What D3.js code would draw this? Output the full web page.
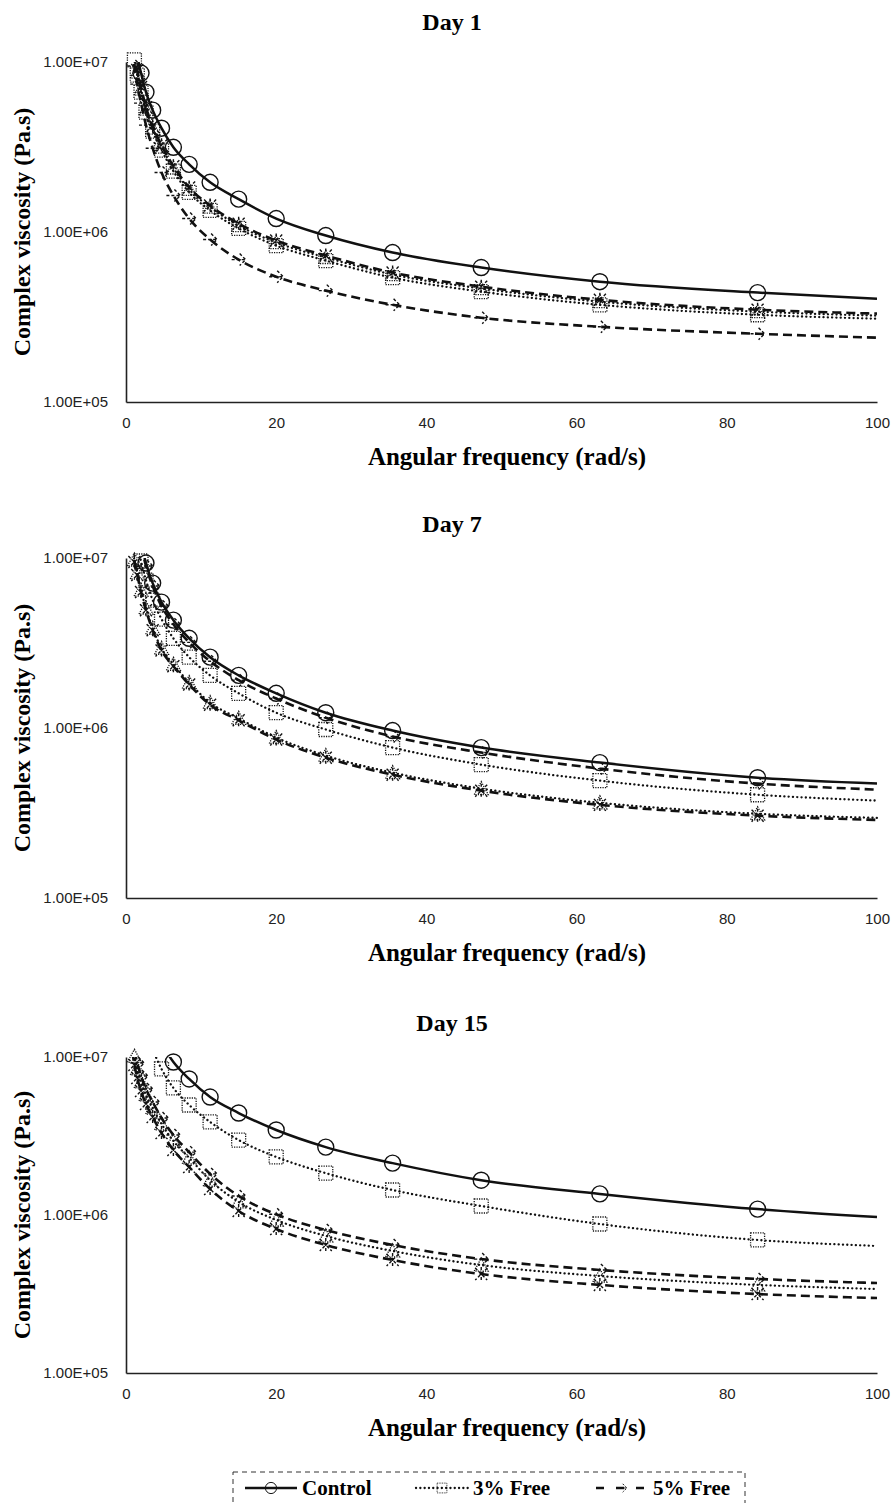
<!DOCTYPE html>
<html>
<head>
<meta charset="utf-8">
<script src="https://cdn.jsdelivr.net/npm/d3@7"></script>
<style>
  body { margin: 0; background: #fff; }
  svg { display: block; }
</style>
</head>
<body>
<script>
const width = 893;
const height = 1503;

// angular frequency (rad/s); the last entry is where the curves stop
const freq = [0.841, 1.12, 1.5, 2.0, 2.66, 3.55, 4.73, 6.31, 8.41, 11.2, 15.0, 20.0, 26.6, 35.5, 47.3, 63.1, 84.1, 100];

// complex viscosity (Pa.s), null = off the chart
const day1Control = [null, null, 1.08e7, 8.61e6, 6.65e6, 5.21e6, 4.08e6, 3.15e6, 2.50e6, 1.96e6, 1.56e6, 1.20e6, 9.53e5, 7.57e5, 6.18e5, 5.10e5, 4.40e5, 4.05e5];
const day1Free3 = [1.26e7, 1.03e7, 8.38e6, 6.65e6, 5.07e6, 3.92e6, 3.03e6, 2.28e6, 1.71e6, 1.34e6, 1.05e6, 8.32e5, 6.79e5, 5.39e5, 4.46e5, 3.73e5, 3.26e5, 3.09e5];
const day1Free5 = [1.18e7, 9.47e6, 7.41e6, 5.73e6, 4.25e6, 3.11e6, 2.24e6, 1.64e6, 1.20e6, 9.03e5, 6.88e5, 5.46e5, 4.52e5, 3.73e5, 3.13e5, 2.77e5, 2.52e5, 2.39e5];
const day1Enc3 = [1.31e7, 1.07e7, 8.73e6, 6.93e6, 5.28e6, 4.08e6, 3.16e6, 2.38e6, 1.78e6, 1.40e6, 1.09e6, 8.67e5, 7.08e5, 5.62e5, 4.65e5, 3.89e5, 3.40e5, 3.22e5];
const day1Enc5 = [1.35e7, 1.10e7, 8.97e6, 7.12e6, 5.42e6, 4.19e6, 3.24e6, 2.44e6, 1.83e6, 1.43e6, 1.12e6, 8.90e5, 7.27e5, 5.77e5, 4.77e5, 3.99e5, 3.49e5, 3.31e5];

const day7Control = [null, null, null, 1.23e7, 9.34e6, 7.12e6, 5.50e6, 4.31e6, 3.37e6, 2.61e6, 2.04e6, 1.60e6, 1.23e6, 9.66e5, 7.67e5, 6.26e5, 5.10e5, 4.71e5];
const day7Free3 = [null, null, 1.23e7, 9.60e6, 7.41e6, 5.65e6, 4.37e6, 3.37e6, 2.61e6, 2.04e6, 1.60e6, 1.23e6, 9.80e5, 7.67e5, 6.09e5, 4.90e5, 4.05e5, 3.74e5];
const day7Free5 = [null, null, null, 1.18e7, 8.97e6, 6.84e6, 5.21e6, 4.08e6, 3.19e6, 2.47e6, 1.91e6, 1.49e6, 1.15e6, 8.91e5, 7.17e5, 5.77e5, 4.71e5, 4.34e5];
const day7Enc3 = [1.19e7, 9.73e6, 8.16e6, 6.47e6, 5.07e6, 3.86e6, 2.94e6, 2.37e6, 1.85e6, 1.41e6, 1.14e6, 8.79e5, 6.88e5, 5.46e5, 4.40e5, 3.63e5, 3.13e5, 2.96e5];
const day7Enc5 = [1.16e7, 9.47e6, 7.94e6, 6.30e6, 4.93e6, 3.76e6, 2.86e6, 2.31e6, 1.80e6, 1.37e6, 1.11e6, 8.55e5, 6.69e5, 5.31e5, 4.28e5, 3.53e5, 3.05e5, 2.88e5];

const day15Control = [null, null, null, null, null, null, 1.21e7, 9.30e6, 7.26e6, 5.58e6, 4.42e6, 3.45e6, 2.69e6, 2.13e6, 1.66e6, 1.36e6, 1.09e6, 9.71e5];
const day15Free3 = [null, null, null, null, null, 1.11e7, 8.40e6, 6.37e6, 4.97e6, 3.88e6, 2.98e6, 2.33e6, 1.84e6, 1.44e6, 1.14e6, 8.77e5, 6.95e5, 6.37e5];
const day15Free5 = [1.34e7, 1.11e7, 9.16e6, 7.58e6, 6.27e6, 5.19e6, 4.11e6, 3.21e6, 2.50e6, 1.82e6, 1.32e6, 1.01e6, 8.04e5, 6.46e5, 5.26e5, 4.49e5, 3.94e5, 3.71e5];
const day15Enc3 = [1.23e7, 1.01e7, 8.40e6, 6.95e6, 5.75e6, 4.75e6, 3.77e6, 2.94e6, 2.30e6, 1.66e6, 1.21e6, 9.30e5, 7.37e5, 5.92e5, 4.82e5, 4.11e5, 3.61e5, 3.40e5];
const day15Enc5 = [1.08e7, 8.90e6, 7.36e6, 6.09e6, 5.04e6, 4.17e6, 3.30e6, 2.58e6, 2.01e6, 1.46e6, 1.06e6, 8.15e5, 6.46e5, 5.19e5, 4.23e5, 3.61e5, 3.16e5, 2.98e5];

const dayTitles = ["Day 1", "Day 7", "Day 15"];
const seriesNames = ["Control", "3% Free", "5% Free", "3% Encapsulated", "5% Encapsulated"];
const legendNames = ["Control", "3% Free", "5% Free"];
const xTicks = [0, 20, 40, 60, 80, 100];
const yTicks = [1e5, 1e6, 1e7];
const yTickLabels = ["1.00E+05", "1.00E+06", "1.00E+07"];

const days = [
  [day1Control, day1Free3, day1Free5, day1Enc3, day1Enc5],
  [day7Control, day7Free3, day7Free5, day7Enc3, day7Enc5],
  [day15Control, day15Free3, day15Free5, day15Enc3, day15Enc5]
];

// layout: the three charts are stacked, the last one is a bit shorter
const plotLeft = 126, plotRight = 877;
const panelTops = [62, 558, 1057];
const panelHeights = [340, 340, 316];
const titleBase = [30, 532, 1031];
const serif = "'Liberation Serif', 'Times New Roman', serif";
const sans = "'Liberation Sans', Arial, sans-serif";

// line + marker look for each series
const styles = [
  {dash: null, width: 2.5, cap: "butt", marker: "circle"},
  {dash: "0.1,4.2", width: 2.3, cap: "round", marker: "square"},
  {dash: "9,5", width: 2.6, cap: "butt", marker: "arrow"},
  {dash: "0.1,4.2", width: 2.3, cap: "round", marker: "triangle"},
  {dash: "9,5", width: 2.6, cap: "butt", marker: "star"}
];

const x = d3.scaleLinear().domain([0, 100]).range([plotLeft, plotRight]);

const svg = d3.select("body").append("svg")
  .attr("width", width).attr("height", height)
  .attr("viewBox", `0 0 ${width} ${height}`);

function drawMarker(g, type, cx, cy, k = 1) {
  const m = g.append("g").attr("transform", `translate(${cx},${cy}) scale(${k})`)
    .attr("fill", "none").attr("stroke", "#111");
  if (type === "circle") {
    m.append("circle").attr("r", 8).attr("stroke-width", 1.4);
  } else if (type === "square") {
    m.append("rect").attr("x", -7).attr("y", -7).attr("width", 14).attr("height", 14)
      .attr("stroke-width", 1.3).attr("stroke-dasharray", "1.2,1.2");
  } else if (type === "arrow") {
    m.append("path").attr("d", "M-7,0H6M1,-6L7,0L1,6")
      .attr("stroke-width", 1.4).attr("stroke-dasharray", "3,2");
  } else if (type === "triangle") {
    m.append("path").attr("d", "M0,-7L7,6H-7Z")
      .attr("stroke-width", 1.3).attr("stroke-dasharray", "1.2,1.2");
  } else {
    m.append("path").attr("d", "M-6,-6L6,6M6,-6L-6,6M0,-7V7")
      .attr("stroke-width", 1.4).attr("stroke-dasharray", "3,2");
  }
}

days.forEach((series, i) => {
  const top = panelTops[i];
  const plotH = panelHeights[i];
  const bottom = top + plotH;
  const y = d3.scaleLog().domain([1e5, 1e7]).range([bottom, top]);
  const g = svg.append("g");

  g.append("clipPath").attr("id", `clip${i}`)
    .append("rect").attr("x", plotLeft).attr("y", top)
    .attr("width", plotRight - plotLeft + 2).attr("height", plotH);

  // title, centred on the whole chart area
  g.append("text")
    .attr("x", 452).attr("y", titleBase[i])
    .attr("text-anchor", "middle")
    .style("font-family", serif).style("font-weight", "bold").style("font-size", "24px")
    .text(dayTitles[i]);

  // x axis
  g.append("g")
    .attr("transform", `translate(0,${bottom})`)
    .call(d3.axisBottom(x).tickValues(xTicks).tickSize(0).tickPadding(15).tickSizeOuter(0))
    .call(a => a.select(".domain").attr("stroke", "#222").attr("stroke-width", 1.6))
    .call(a => a.selectAll("text").attr("fill", "#222").style("font-family", sans).style("font-size", "15px"));

  // y axis
  g.append("g")
    .attr("transform", `translate(${plotLeft},0)`)
    .call(d3.axisLeft(y).tickValues(yTicks).tickFormat((d, k) => yTickLabels[k]).tickSize(0).tickPadding(18).tickSizeOuter(0))
    .call(a => a.select(".domain").attr("stroke", "#222").attr("stroke-width", 1.6))
    .call(a => a.selectAll("text").attr("fill", "#222").style("font-family", sans).style("font-size", "15px"));

  // axis titles
  g.append("text")
    .attr("x", 507).attr("y", bottom + 63)
    .attr("text-anchor", "middle")
    .style("font-family", serif).style("font-weight", "bold").style("font-size", "25px")
    .text("Angular frequency (rad/s)");

  g.append("text")
    .attr("transform", `translate(30,${top + plotH / 2}) rotate(-90)`)
    .attr("text-anchor", "middle")
    .style("font-family", serif).style("font-weight", "bold").style("font-size", "24px")
    .text("Complex viscosity (Pa.s)");

  // curves
  const line = d3.line()
    .defined(d => d.v != null)
    .x(d => x(d.f))
    .y(d => y(d.v))
    .curve(d3.curveMonotoneX);

  const lines = g.append("g").attr("clip-path", `url(#clip${i})`);
  const marks = g.append("g");

  series.forEach((vals, s) => {
    const st = styles[s];
    const pts = freq.map((f, k) => ({f, v: vals[k]}));
    lines.append("path")
      .datum(pts)
      .attr("fill", "none")
      .attr("stroke", "#111")
      .attr("stroke-width", st.width)
      .attr("stroke-linecap", st.cap)
      .attr("stroke-dasharray", st.dash)
      .attr("d", line);

    pts.filter(d => d.v != null && d.f < 100 && d.v <= 1.06e7)
      .forEach(d => drawMarker(marks, st.marker, x(d.f), y(d.v)));
  });
});

// legend (box runs past the bottom edge of the figure)
const legTop = 1472;
const leg = svg.append("g");
leg.append("rect")
  .attr("x", 233).attr("y", legTop).attr("width", 512).attr("height", 70)
  .attr("fill", "none").attr("stroke", "#333").attr("stroke-width", 1)
  .attr("stroke-dasharray", "5,4");

const legX = [271, 442, 622];
legendNames.forEach((name, s) => {
  const st = styles[s];
  const cy = legTop + 16;
  const lx = legX[s];
  leg.append("line")
    .attr("x1", lx - 26).attr("x2", lx + 26).attr("y1", cy).attr("y2", cy)
    .attr("stroke", "#111").attr("stroke-width", st.width)
    .attr("stroke-linecap", st.cap).attr("stroke-dasharray", st.dash === "9,5" ? "8,12" : st.dash);
  drawMarker(leg, st.marker, lx, cy, 0.7);
  leg.append("text")
    .attr("x", lx + 31).attr("y", cy + 7)
    .style("font-family", serif).style("font-weight", "bold").style("font-size", "21px")
    .text(name);
});
</script>
</body>
</html>
